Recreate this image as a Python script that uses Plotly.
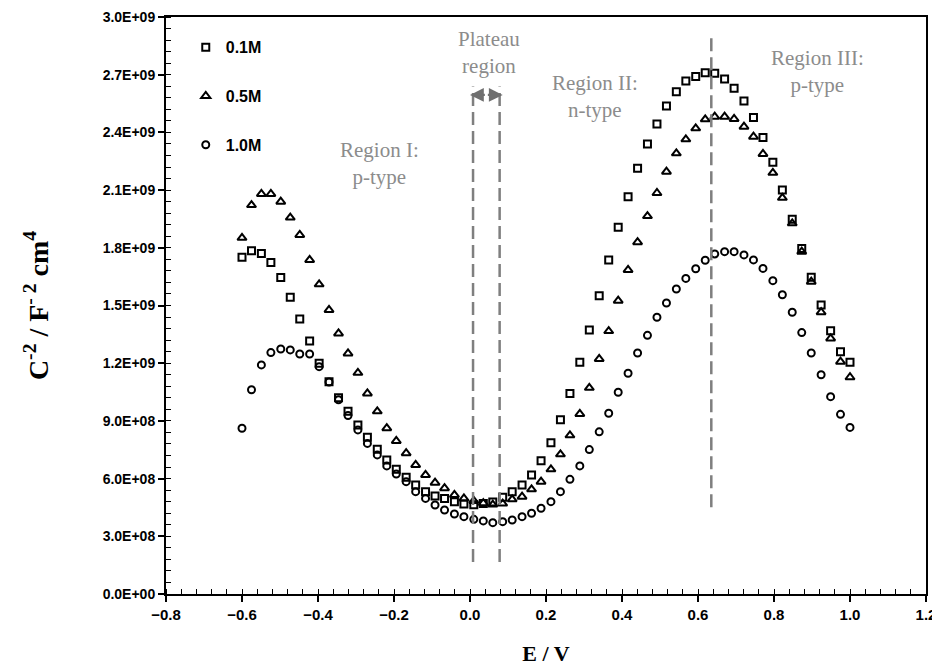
import numpy as np
import plotly.graph_objects as go

# Potential (V)
E = [-0.600, -0.575, -0.549, -0.524, -0.498, -0.473, -0.448, -0.422, -0.397, -0.371,
     -0.346, -0.321, -0.295, -0.270, -0.244, -0.219, -0.194, -0.168, -0.143, -0.117,
     -0.092, -0.067, -0.041, -0.016, 0.010, 0.035, 0.060, 0.086, 0.111, 0.137,
     0.162, 0.187, 0.213, 0.238, 0.263, 0.289, 0.314, 0.340, 0.365, 0.390,
     0.416, 0.441, 0.467, 0.492, 0.517, 0.543, 0.568, 0.594, 0.619, 0.644,
     0.670, 0.695, 0.721, 0.746, 0.771, 0.797, 0.822, 0.848, 0.873, 0.898,
     0.924, 0.949, 0.975, 1.000]

# C^-2 values in units of 1e9 F^-2 cm^4
c_01M = [1.751, 1.785, 1.771, 1.723, 1.645, 1.543, 1.430, 1.315, 1.200, 1.104,
         1.020, 0.950, 0.879, 0.815, 0.752, 0.697, 0.648, 0.607, 0.567, 0.532,
         0.510, 0.497, 0.480, 0.468, 0.464, 0.470, 0.478, 0.503, 0.532, 0.567,
         0.619, 0.693, 0.787, 0.906, 1.042, 1.205, 1.373, 1.551, 1.737, 1.907,
         2.065, 2.213, 2.340, 2.444, 2.537, 2.612, 2.667, 2.690, 2.710, 2.707,
         2.678, 2.629, 2.563, 2.478, 2.374, 2.245, 2.100, 1.948, 1.797, 1.647,
         1.503, 1.369, 1.260, 1.205]

c_05M = [1.852, 2.022, 2.080, 2.080, 2.040, 1.957, 1.867, 1.737, 1.610, 1.477,
         1.355, 1.251, 1.150, 1.043, 0.950, 0.862, 0.796, 0.732, 0.671, 0.619,
         0.579, 0.550, 0.515, 0.497, 0.484, 0.472, 0.465, 0.470, 0.492, 0.506,
         0.544, 0.584, 0.648, 0.726, 0.825, 0.936, 1.072, 1.222, 1.367, 1.525,
         1.685, 1.829, 1.965, 2.085, 2.196, 2.291, 2.364, 2.421, 2.468, 2.482,
         2.482, 2.470, 2.430, 2.378, 2.288, 2.190, 2.060, 1.927, 1.780, 1.624,
         1.465, 1.329, 1.208, 1.127]

c_10M = [0.862, 1.062, 1.191, 1.255, 1.274, 1.269, 1.248, 1.248, 1.182, 1.102,
         1.010, 0.928, 0.853, 0.783, 0.723, 0.666, 0.624, 0.584, 0.532, 0.497,
         0.463, 0.437, 0.416, 0.402, 0.388, 0.380, 0.371, 0.376, 0.385, 0.402,
         0.420, 0.446, 0.480, 0.532, 0.596, 0.666, 0.751, 0.843, 0.940, 1.049,
         1.148, 1.253, 1.345, 1.439, 1.513, 1.586, 1.641, 1.691, 1.735, 1.768,
         1.780, 1.780, 1.763, 1.737, 1.693, 1.629, 1.556, 1.465, 1.359, 1.253,
         1.140, 1.026, 0.934, 0.866]

series_names = ["0.1M", "0.5M", "1.0M"]
series_values = [c_01M, c_05M, c_10M]
series_symbols = ["square-open", "triangle-up-open", "circle-open"]
series_sizes = [7, 8, 7]

# Region boundaries (V) and their vertical extents (1e9 units)
boundary_x = [0.008, 0.078, 0.635]
boundary_y0 = [0.166, 0.166, 0.451]
boundary_y1 = [2.638, 2.638, 2.917]

# Region labels: (text, x [V], y [1e9])
region_labels = [
    ("Plateau<br>region", 0.049, 2.818),
    ("Region I:<br>p-type", -0.239, 2.240),
    ("Region II:<br>n-type", 0.330, 2.585),
    ("Region III:<br>p-type", 0.914, 2.719),
]
arrow_y = 2.595
arrow_center = 0.043
arrow_heads = [0.000, 0.086]

y_ticks = [i * 3e8 for i in range(11)]
y_ticktext = [f"{v:.1E}" for v in y_ticks]
x_ticks = [-0.8, -0.6, -0.4, -0.2, 0.0, 0.2, 0.4, 0.6, 0.8, 1.0, 1.2]

fig = go.Figure()
for i, (name, vals, sym, sz) in enumerate(zip(series_names, series_values, series_symbols, series_sizes)):
    fig.add_trace(go.Scatter(
        x=E, y=[v * 1e9 for v in vals], mode="markers", name=name,
        legendgroup=f"g{i}",
        marker=dict(symbol=sym, size=sz, color="black", line=dict(width=2, color="black")),
    ))

gray = "#8c8c8c"
for bx, y0, y1 in zip(boundary_x, boundary_y0, boundary_y1):
    fig.add_shape(type="line", x0=bx, x1=bx, y0=y0 * 1e9, y1=y1 * 1e9, xref="x", yref="y",
                  line=dict(color="#7f7f7f", width=2.5, dash="13px,6px"))

for text, tx, ty in region_labels:
    fig.add_annotation(x=tx, y=ty * 1e9, text=text, showarrow=False, xanchor="center", yanchor="middle",
                       font=dict(family="Times New Roman, Liberation Serif, serif", size=21, color=gray))

for hx in arrow_heads:
    fig.add_annotation(x=hx, y=arrow_y * 1e9, ax=arrow_center, ay=arrow_y * 1e9, axref="x", ayref="y",
                       xref="x", yref="y", text="", showarrow=True, arrowhead=2, arrowsize=1.15,
                       arrowwidth=2.4, arrowcolor="#6f6f6f", standoff=0, startstandoff=0)

tick_font = dict(family="Arial, Liberation Sans, sans-serif", size=14, color="black", weight="bold")
xtick_font = dict(family="Arial, Liberation Sans, sans-serif", size=15, color="black", weight="bold")
title_font = dict(family="Times New Roman, Liberation Serif, serif", size=28, color="black", weight="bold")

fig.update_xaxes(
    range=[-0.8, 1.2], tickmode="array", tickvals=x_ticks, tickformat=".1f",
    ticks="outside", ticklen=6, tickwidth=1.5, tickcolor="black",
    minor=dict(tickmode="array", tickvals=[round(v, 3) for v in np.arange(-0.8, 1.2001, 0.04)],
               ticks="inside", ticklen=5, tickwidth=1.2, tickcolor="black", showgrid=False),
    showline=True, linecolor="black", linewidth=2, mirror=True,
    showgrid=False, zeroline=False, tickfont=xtick_font,
    title=dict(text="E / V", font=dict(family="Times New Roman, Liberation Serif, serif", size=22,
                                       color="black", weight="bold"), standoff=24),
)
fig.update_yaxes(
    range=[0, 3e9], tickmode="array", tickvals=y_ticks, ticktext=y_ticktext,
    ticks="outside", ticklen=6, tickwidth=1.5, tickcolor="black",
    minor=dict(tickmode="array", tickvals=[i * 6e7 for i in range(51)],
               ticks="inside", ticklen=5, tickwidth=1.2, tickcolor="black", showgrid=False),
    showline=True, linecolor="black", linewidth=2, mirror=True,
    showgrid=False, zeroline=False, tickfont=tick_font,
    title=dict(text="C<sup>-2</sup> / F<sup>- 2</sup> cm<sup>4</sup>", font=title_font, standoff=46),
)

fig.update_layout(
    width=932, height=663,
    margin=dict(l=158, r=14, t=9, b=77, autoexpand=False),
    plot_bgcolor="white", paper_bgcolor="white",
    showlegend=True,
    legend=dict(x=0.026, y=0.977, xanchor="left", yanchor="top", bgcolor="rgba(0,0,0,0)",
                tracegroupgap=25, itemwidth=30, traceorder="grouped",
                font=dict(family="Arial, Liberation Sans, sans-serif", size=16, color="black", weight="bold")),
)

fig.write_html("out.html")
